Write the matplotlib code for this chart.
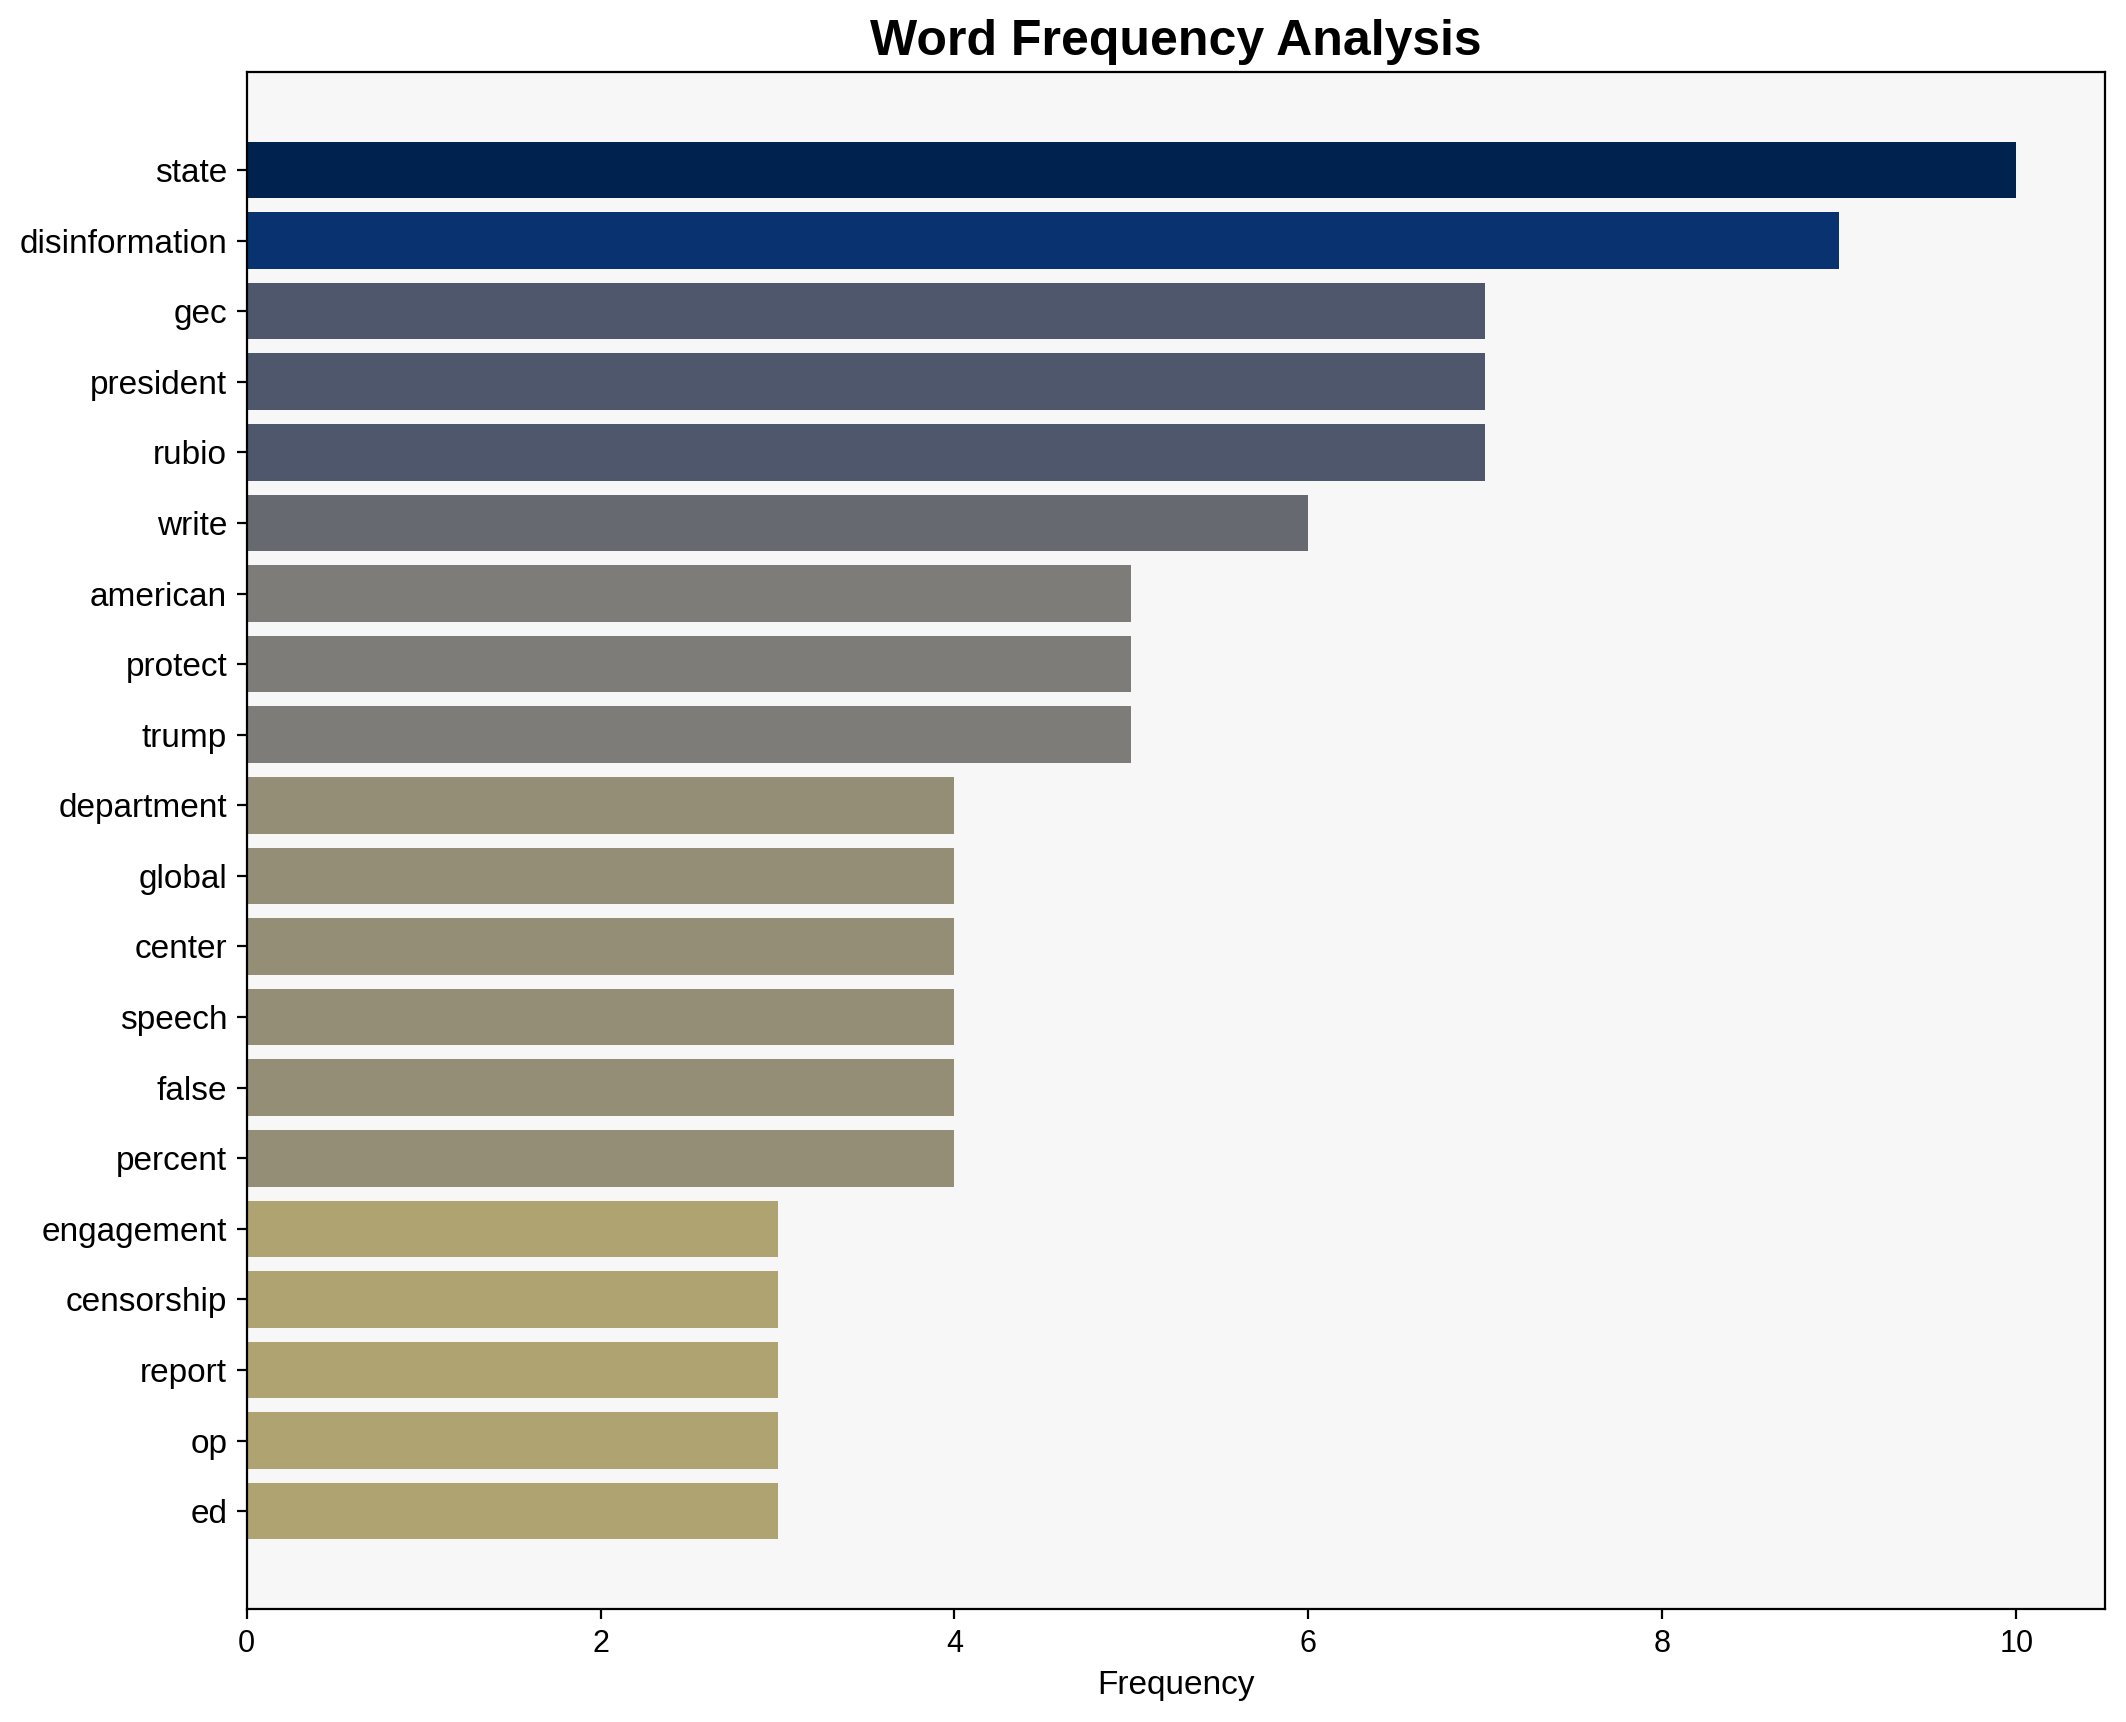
import matplotlib
matplotlib.use("Agg")
import matplotlib.pyplot as plt
import numpy as np

words = ["state", "disinformation", "gec", "president", "rubio", "write", "american",
         "protect", "trump", "department", "global", "center", "speech", "false",
         "percent", "engagement", "censorship", "report", "op", "ed"]
counts = [10, 9, 7, 7, 7, 6, 5, 5, 5, 4, 4, 4, 4, 4, 4, 3, 3, 3, 3, 3]

plt.rcParams['font.family'] = ['Liberation Sans', 'DejaVu Sans']

fig = plt.figure(figsize=(10.63, 8.61), dpi=200)
ax = fig.add_axes([0.116, 0.0654, 0.874, 0.8929])
ax.set_facecolor('#f7f7f7')

vals = np.array(counts, dtype=float)
colors = plt.cm.cividis(1 - vals / vals.max())
y = np.arange(len(words))
ax.barh(y, vals, color=colors, height=0.8)
ax.set_yticks(y)
ax.set_yticklabels(words, fontsize=12)
ax.invert_yaxis()
ax.tick_params(axis='x', labelsize=11)
ax.set_xlabel('Frequency', fontsize=12)
ax.set_title('Word Frequency Analysis', fontsize=18, fontweight='bold')

fig.savefig('out.png', dpi=200)
